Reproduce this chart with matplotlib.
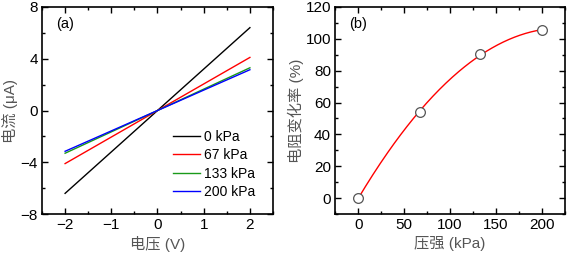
import numpy as np
import matplotlib
matplotlib.use("Agg")
import matplotlib.pyplot as plt
from matplotlib.ticker import MultipleLocator

plt.rcParams['font.family'] = ['Liberation Sans', 'Noto Sans CJK SC', 'DejaVu Sans']
plt.rcParams['font.size'] = 10

# Panel (a): I-V curves
voltage = [-2, 2]
iv_labels = ['0 kPa', '67 kPa', '133 kPa', '200 kPa']
iv_currents = [[-6.4, 6.4], [-4.1, 4.1], [-3.3, 3.3], [-3.15, 3.15]]
iv_colors = ['black', 'red', '#1a9a1a', 'blue']

# Panel (b): resistance change vs pressure
pressure = [0, 67, 133, 200]
res_change = [0, 54, 90.5, 105.5]

fig = plt.figure(figsize=(5.69, 2.57), dpi=100)
ax1 = fig.add_axes([0.0738, 0.167, 0.406, 0.806])
ax2 = fig.add_axes([0.589, 0.167, 0.404, 0.806])

for lab, cur, col in zip(iv_labels, iv_currents, iv_colors):
    ax1.plot(voltage, cur, color=col, lw=1.0, label=lab)
ax1.set_xlim(-2.5, 2.5)
ax1.set_ylim(-8, 8)
ax1.xaxis.set_major_locator(MultipleLocator(1))
ax1.xaxis.set_minor_locator(MultipleLocator(0.5))
ax1.yaxis.set_major_locator(MultipleLocator(4))
ax1.yaxis.set_minor_locator(MultipleLocator(2))
ax1.set_xlabel('电压 (V)', color='#555555', fontsize=11, labelpad=3)
ax1.set_ylabel('电流 (μA)', color='#555555', fontsize=11, labelpad=2)
ax1.text(0.06, 0.9, '(a)', transform=ax1.transAxes, fontsize=10.5)
leg = ax1.legend(loc='upper left', frameon=False, handlelength=2.0, handletextpad=0.25,
                 labelspacing=0.3, borderaxespad=0, borderpad=0,
                 bbox_to_anchor=(0.565, 0.405), fontsize=10)

# fit curve for panel (b)
coef = np.polyfit(pressure, res_change, 2)
xf = np.linspace(min(pressure), max(pressure), 200)
ax2.plot(xf, np.polyval(coef, xf), color='red', lw=1.0, zorder=2)
ax2.plot(pressure, res_change, 'o', ms=7, mfc='white', mec='#555555', mew=0.9, zorder=3)
ax2.set_xlim(-25, 225)
ax2.set_ylim(-10, 120)
ax2.xaxis.set_major_locator(MultipleLocator(50))
ax2.xaxis.set_minor_locator(MultipleLocator(25))
ax2.yaxis.set_major_locator(MultipleLocator(20))
ax2.yaxis.set_minor_locator(MultipleLocator(10))
ax2.set_xlabel('压强 (kPa)', color='#555555', fontsize=11, labelpad=3)
ax2.set_ylabel('电阻变化率 (%)', color='#555555', fontsize=11, labelpad=1)
ax2.text(0.06, 0.9, '(b)', transform=ax2.transAxes, fontsize=10.5)

for ax in (ax1, ax2):
    for s in ax.spines.values():
        s.set_linewidth(1.2)
    ax.tick_params(which='both', direction='in', top=True, right=True, width=1.0)
    ax.tick_params(which='major', length=4)
    ax.tick_params(which='minor', length=2.5)
    ax.tick_params(axis='both', which='major', pad=3, labelsize=11)

fig.savefig('out.png', dpi=100)
